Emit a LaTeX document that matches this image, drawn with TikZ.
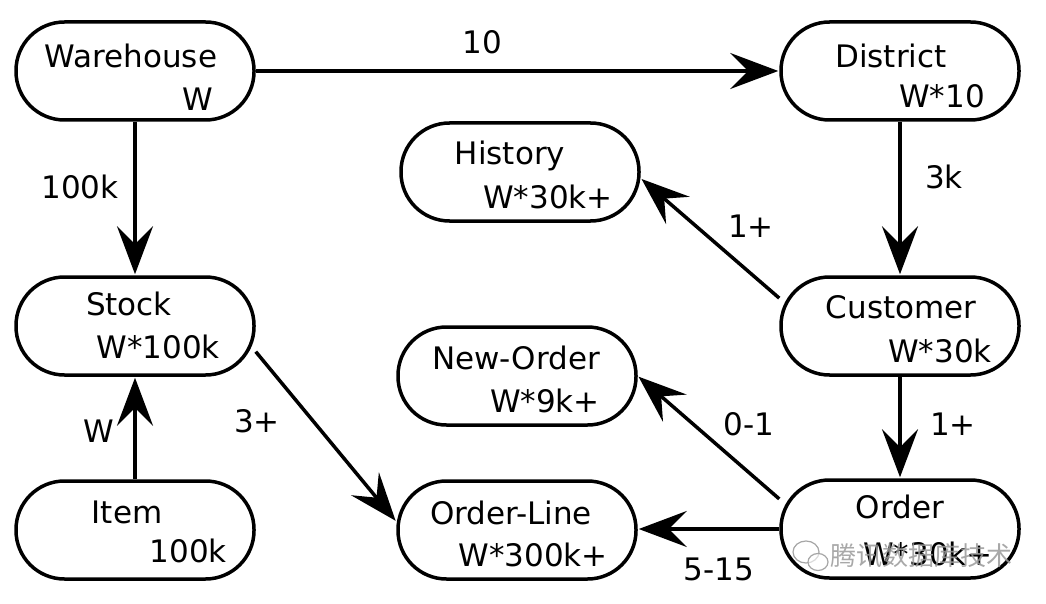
\documentclass[tikz,border=0pt]{standalone}
\usepackage{fontspec}
\setmainfont{DejaVu Sans}
\newfontfamily\cjk{Noto Sans CJK SC}
\usetikzlibrary{arrows.meta}
\begin{document}
\begin{tikzpicture}[x=1pt,y=-1pt,
  entity/.style={draw, line width=3.5pt, rounded corners=48.5pt, minimum width=238pt, minimum height=98pt, inner sep=0pt},
  txt/.style={font=\fontsize{31}{36}\selectfont, inner sep=0pt, anchor=base},
  txtr/.style={font=\fontsize{31}{36}\selectfont, inner sep=0pt, anchor=base east},
  lbl/.style={font=\fontsize{31}{36}\selectfont, inner sep=0pt, anchor=base},
  arr/.style={line width=3.5pt, -{Stealth[length=48pt, width=36pt, inset=18pt]}, shorten >=1pt},
  wmk/.style={font=\cjk\fontsize{26}{30}\selectfont, inner sep=0pt}
]
\useasboundingbox (0,0) rectangle (1046,604);
% entities
\node[entity] (wh) at (135,71) {};
\node[entity] (di) at (900,71) {};
\node[entity] (hi) at (520,172) {};
\node[entity] (cu) at (900,326) {};
\node[entity] (no) at (517,376) {};
\node[entity] (ol) at (517,530) {};
\node[entity] (or) at (900,529) {};
\node[entity] (st) at (135,326) {};
\node[entity] (it) at (135,530) {};
% texts
\node[txt] (wh1) at (131,68) {Warehouse};
\node[txtr] (wh2) at (213,111) {W};
\node[txt] (di1) at (891,68) {District};
\node[txtr] (di2) at (985,108) {W*10};
\node[txt] (hi1) at (510,165) {History};
\node[txtr] (hi2) at (613,208) {W*30k+};
\node[txt] (cu1) at (901,318) {Customer};
\node[txtr] (cu2) at (992,362) {W*30k};
\node[txt] (no1) at (516,369) {New-Order};
\node[txtr] (no2) at (600,412) {W*9k+};
\node[txt] (ol1) at (511,524) {Order-Line};
\node[txtr] (ol2) at (608,566) {W*300k+};
\node[txt] (or1) at (900,518) {Order};
\node[txtr] (or2) at (993,565) {W*30k+};
\node[txt] (st1) at (129,315) {Stock};
\node[txtr] (st2) at (220,358) {W*100k};
\node[txt] (it1) at (127,523) {Item};
\node[txtr] (it2) at (227,562) {100k};
% connectors
\draw[arr] (wh.east) -- (di.west);
\draw[arr] (wh.south) -- (st.north);
\draw[arr] (di.south) -- (cu.north);
\draw[arr] (cu.167) -- (hi.-3);
\draw[arr] (cu.south) -- (or.north);
\draw[arr] (or.166) -- (no.east);
\draw[arr] (or.west) -- (or.west -| ol.east);
\draw[arr] (st.-12) -- (ol.176);
\draw[arr] (it.north) -- (st.south);
% labels
\node[lbl] (l1) at (482,54) {10};
\node[lbl] (l2) at (80,199) {100k};
\node[lbl] (l3) at (944,189) {3k};
\node[lbl] (l4) at (751,237) {1+};
\node[lbl] (l5) at (953,435) {1+};
\node[lbl] (l6) at (749,435) {0-1};
\node[lbl] (l7) at (719,580) {5-15};
\node[lbl] (l8) at (257,432) {3+};
\node[lbl] (l9) at (99,442) {W};
% watermark
\node[wmk, text=black!40, text opacity=0.85] (wm) at (921,556) {腾讯数据库技术};
\draw[black!35, line width=1.2pt, fill=white, fill opacity=0.6] (806,552) ellipse (13pt and 11pt);
\draw[black!35, line width=1.2pt, fill=white, fill opacity=0.6] (818,562) ellipse (10pt and 8.5pt);
\end{tikzpicture}
\end{document}
